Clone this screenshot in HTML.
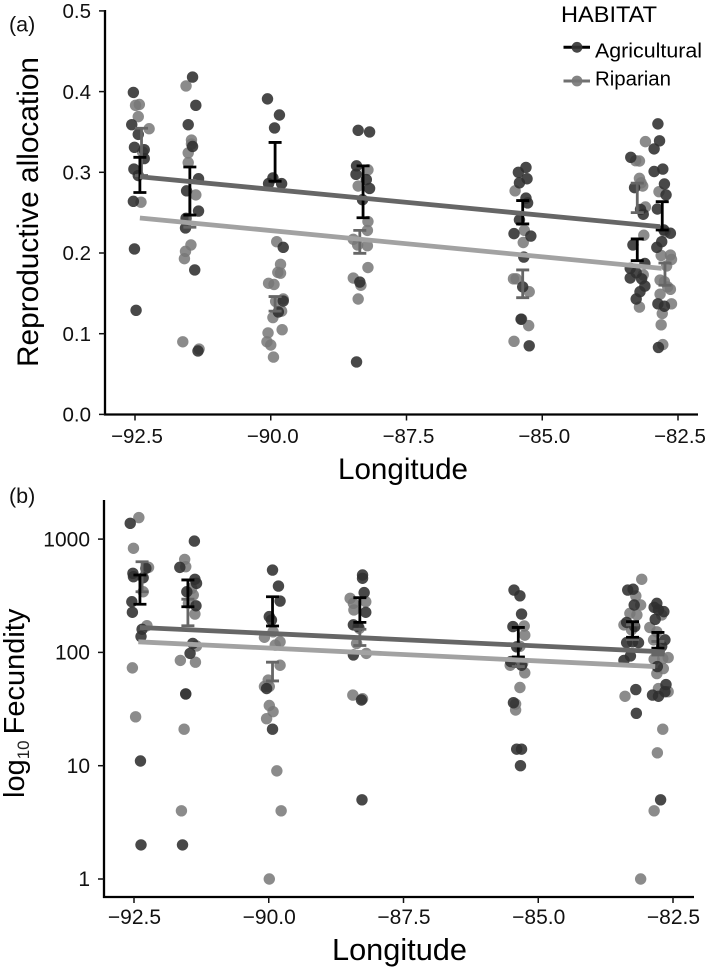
<!DOCTYPE html>
<html lang="en">
<head>
<meta charset="utf-8">
<title>Reproductive allocation and fecundity by longitude</title>
<style>
html,body{margin:0;padding:0;background:#fff;}
svg{display:block;font-family:"Liberation Sans",Arial,sans-serif;filter:blur(0.35px);}
</style>
</head>
<body>
<svg id="chart" xmlns="http://www.w3.org/2000/svg" width="709" height="967" viewBox="0 0 709 967">
  <rect width="709" height="967" fill="#fff"/>
  <g id="panel-a"></g>
  <g id="panel-b"></g>
  <text x="9" y="31.5" font-size="21.5" fill="#111">(a)</text>
  <text x="9" y="503" font-size="21.5" fill="#111">(b)</text>
  <text transform="translate(38,367) rotate(-90)" font-size="29.5" fill="#000" textLength="310" lengthAdjust="spacingAndGlyphs">Reproductive allocation</text>
  <text x="338" y="479" font-size="29.5" fill="#000" textLength="130" lengthAdjust="spacingAndGlyphs">Longitude</text>
  <text transform="translate(24,798) rotate(-90)" font-size="29" fill="#000">log<tspan font-size="17" dy="5" fill="#222">10</tspan><tspan dy="-5" dx="6">Fecundity</tspan></text>
  <text x="332" y="960" font-size="30.5" fill="#000" textLength="135" lengthAdjust="spacingAndGlyphs">Longitude</text>
  <g>
    <text x="561" y="22" font-size="22.5" fill="#000" textLength="96" lengthAdjust="spacingAndGlyphs">HABITAT</text>
    <g>
      <line x1="563.5" x2="590" y1="47.3" y2="47.3" stroke="#000" stroke-width="3"/>
      <circle cx="577" cy="47.3" r="5.4" fill="#333" fill-opacity="0.9"/>
      <text x="595" y="57.5" font-size="20" fill="#000" textLength="107" lengthAdjust="spacingAndGlyphs">Agricultural</text>
    </g>
    <g>
      <line x1="563.5" x2="590" y1="81" y2="81" stroke="#707070" stroke-width="3"/>
      <circle cx="577" cy="81" r="5.4" fill="#777" fill-opacity="0.9"/>
      <text x="595" y="85.5" font-size="20" fill="#000" textLength="76" lengthAdjust="spacingAndGlyphs">Riparian</text>
    </g>
  </g>
</svg>
<script>
// Shared axis tick labels
const xTicks = [-92.5, -90, -87.5, -85, -82.5];
const xTickLabels = ['\u221292.5', '\u221290.0', '\u221287.5', '\u221285.0', '\u221282.5'];

// Panel (a): y ticks
const aYTicks = [0, 0.1, 0.2, 0.3, 0.4, 0.5];
const aYTickLabels = ['0.0', '0.1', '0.2', '0.3', '0.4', '0.5'];

// Panel (a): agricultural points
const aAgrLon = [-92.53,-92.56,-92.44,-92.51,-92.33,-92.33,-92.52,-92.44,-92.53,-92.51,-92.48,
  -91.44,-91.38,-91.52,-91.44,-91.33,-91.55,-91.33,-91.56,-91.57,-91.40,-91.34,
  -90.06,-89.84,-89.93,-89.96,-90.04,-89.80,-89.77,-89.86,-89.77,
  -88.39,-88.18,-88.42,-88.43,-88.24,-88.18,-88.31,-88.42,-88.36,
  -85.30,-85.44,-85.28,-85.42,-85.30,-85.27,-85.42,-85.52,-85.21,-85.34,-85.36,-85.24,-85.39,
  -83.37,-83.30,-83.19,-83.14,-83.33,-83.11,-83.38,-83.27,-83.38,-83.17,-83.11,-83.20,-83.27,
  -82.87,-82.84,-82.94,-82.78,-82.94,-82.75,-82.72,-82.88,-82.76,-82.64,-82.80,-82.89,-82.87,-82.75,-82.86];
const aAgrVal = [0.399,0.359,0.347,0.331,0.328,0.317,0.304,0.296,0.264,0.205,0.129,
  0.418,0.383,0.359,0.332,0.292,0.277,0.252,0.243,0.231,0.179,0.0786,
  0.391,0.371,0.355,0.293,0.286,0.286,0.207,0.127,0.1405,
  0.352,0.350,0.308,0.2975,0.291,0.280,0.266,0.065,0.164,
  0.306,0.300,0.292,0.287,0.268,0.262,0.241,0.224,0.221,0.195,0.158,0.085,0.118,
  0.3186,0.281,0.254,0.248,0.210,0.187,0.181,0.1755,0.169,0.168,0.159,0.152,0.143,
  0.360,0.339,0.329,0.304,0.301,0.2855,0.272,0.2545,0.2285,0.2245,0.214,0.207,0.137,0.134,0.083];

// Panel (a): riparian points
const aRipLon = [-92.49,-92.42,-92.44,-92.24,-92.39,-92.36,
  -91.56,-91.46,-91.46,-91.52,-91.52,-91.38,-91.47,-91.57,-91.59,-91.62,-91.32,
  -89.89,-89.82,-89.87,-89.82,-90.04,-89.94,-89.77,-89.91,-89.80,-89.96,-89.79,-90.05,-90.07,-90.00,-89.95,
  -88.21,-88.39,-88.21,-88.22,-88.48,-88.21,-88.48,-88.34,-88.39,-88.40,-88.22,
  -85.50,-85.33,-85.35,-85.53,-85.48,-85.24,-85.38,-85.25,-85.52,
  -83.21,-83.28,-83.10,-83.21,-83.18,-83.15,-83.10,-83.13,-83.14,-83.21,
  -82.85,-82.74,-82.81,-82.64,-82.62,-82.71,-82.83,-82.75,-82.69,-82.64,-82.83,-82.62,-82.79,-82.81,-82.78];
const aRipVal = [0.383,0.384,0.369,0.354,0.263,0.325,
  0.407,0.340,0.335,0.324,0.312,0.272,0.210,0.202,0.193,0.090,0.081,
  0.214,0.186,0.176,0.175,0.1625,0.161,0.143,0.140,0.128,0.120,0.105,0.101,0.090,0.086,0.071,
  0.303,0.283,0.239,0.228,0.217,0.182,0.169,0.160,0.143,0.210,0.209,
  0.277,0.228,0.213,0.168,0.168,0.152,0.118,0.110,0.0906,
  0.314,0.3144,0.338,0.2925,0.287,0.283,0.257,0.222,0.173,0.133,
  0.276,0.226,0.197,0.1975,0.192,0.184,0.1665,0.1645,0.158,0.155,0.149,0.137,0.125,0.111,0.0865];

// Panel (a): regression lines (lon, fitted value at both ends)
const aAgrLineLon = [-92.41, -82.83];
const aAgrLineVal = [0.2945, 0.2326];
const aRipLineLon = [-92.41, -82.80];
const aRipLineVal = [0.2434, 0.181];

// Panel (a): error bars
const aAgrErrLon = [-92.41,-91.49,-89.92,-88.30,-85.36,-83.25,-82.79];
const aAgrErrHi = [0.3186,0.3066,0.337,0.308,0.265,0.2174,0.2636];
const aAgrErrLo = [0.275,0.247,0.289,0.2437,0.236,0.1905,0.2285];
const aRipErrLon = [-92.38,-91.49,-89.92,-88.36,-85.36,-83.25,-82.74];
const aRipErrHi = [0.3546,0.29,0.146,0.228,0.179,0.2866,0.1876];
const aRipErrLo = [0.296,0.232,0.128,0.1996,0.1446,0.25,0.160];

// Panel (b): y ticks
const bYTicks = [1, 10, 100, 1000];
const bYTickLabels = ['1', '10', '100', '1000'];

// Panel (b): agricultural points
const bAgrLon = [-92.57,-92.52,-92.28,-92.51,-92.33,-92.54,-92.53,-92.35,-92.37,-92.38,-92.37,
  -91.38,-91.65,-91.37,-91.34,-91.52,-91.35,-91.41,-91.46,-91.54,-91.60,
  -89.93,-89.82,-89.79,-89.99,-89.95,-89.93,-90.04,
  -88.26,-88.26,-88.23,-88.20,-88.43,-88.34,-88.43,-88.27,-88.28,
  -85.45,-85.34,-85.31,-85.47,-85.40,-85.51,-85.31,-85.46,-85.40,-85.31,-85.33,
  -83.34,-83.24,-83.22,-83.36,-83.21,-83.36,-83.25,-83.14,-83.29,-83.41,-83.19,-83.18,
  -82.80,-82.85,-82.77,-82.67,-82.83,-82.65,-82.71,-82.79,-82.63,-82.88,-82.77,-82.73,-82.65];
const bAgrVal = [1378,499,552,466,456,280,226,160,138,11,2,
  960,563,442,407,343,258,120,98,43,2,
  533,385,284,207,193,21,48,
  482,451,337,226,95,169,175,5,38,
  355,316,218,169,112,83,77,36,14,14,10,
  355,361,262,184,169,122,124,122,93,85,47,29,
  271,250,237,229,196,129,113,75,52,42,41,5,45];

// Panel (b): riparian points
const bRipLon = [-92.41,-92.51,-92.23,-92.33,-92.26,-92.53,-92.47,
  -91.56,-91.54,-91.43,-91.40,-91.49,-91.37,-91.34,-91.64,-91.36,-91.57,-91.62,-91.54,
  -89.92,-90.08,-89.79,-89.88,-89.79,-90.01,-90.08,-89.99,-89.99,-89.92,-90.04,-89.85,-89.77,-89.99,
  -88.49,-88.43,-88.20,-88.42,-88.32,-88.37,-88.19,-88.44,-88.26,
  -85.26,-85.25,-85.34,-85.52,-85.29,-85.25,-85.34,-85.42,-85.42,
  -83.08,-83.19,-83.10,-83.30,-83.17,-83.41,-83.27,-83.39,-83.10,
  -82.71,-82.93,-82.80,-82.86,-82.59,-82.85,-82.69,-82.68,-82.80,-82.77,-82.59,-82.69,-82.79,-82.85];
const bRipVal = [1550,830,563,343,172,73,27,
  662,571,367,321,271,218,114,85,82,21,4,43,
  152,136,124,116,77,57,50,50,34,30,26,9,4,1,
  300,271,280,237,163,120,98,42,39,
  171,142,113,77,80,66,49,35,31,
  442,315,262,221,214,175,158,41,1,
  214,166,152,129,90,87,88,72,65,48,45,21,13,4];

// Panel (b): regression lines
const bAgrLineLon = [-92.39, -82.65];
const bAgrLineVal = [166, 101];
const bRipLineLon = [-92.42, -82.83];
const bRipLineVal = [124, 75];

// Panel (b): error bars
const bAgrErrLon = [-92.39,-91.50,-89.93,-88.31,-85.37,-83.25,-82.78];
const bAgrErrHi = [482,436,310,304,166,187,150];
const bAgrErrLo = [266,253,171,184,91,136,109];
const bRipErrLon = [-92.35,-91.50,-89.93,-88.31,-85.37,-83.25,-82.78];
const bRipErrHi = [631,295,82,160,91,175,125];
const bRipErrLo = [343,172,56,115,75,130,95];

const SVGNS = 'http://www.w3.org/2000/svg';
const AGR_DOT = '#2f2f2f', RIP_DOT = '#777777';
const AGR_LINE = '#666666', RIP_LINE = '#a2a2a2';
const AGR_ERR = '#000000', RIP_ERR = '#666666';

function make(parent, tag, props) {
  const el = document.createElementNS(SVGNS, tag);
  for (const k in props) el.setAttribute(k, props[k]);
  parent.appendChild(el);
  return el;
}

function drawPanel(root, cfg) {
  const x = cfg.x, y = cfg.y;

  function points(lons, vals, fill, opacity, name) {
    const g = make(root, 'g', {});
    
    
    lons.forEach(function (lon, i) {
      const c = make(g, 'circle', { cx: x(lon), cy: y(vals[i]), r: 5.7, fill: fill, 'fill-opacity': opacity });
      
      
    });
  }

  function errors(lons, hi, lo, color, name) {
    const g = make(root, 'g', { stroke: color, 'stroke-width': 2.8, fill: 'none' });
    
    
    lons.forEach(function (lon, i) {
      const cx = x(lon), t = y(hi[i]), b = y(lo[i]);
      const p = make(g, 'path', { d: 'M' + (cx - 6.5) + ' ' + t + 'H' + (cx + 6.5) + 'M' + cx + ' ' + t + 'V' + b + 'M' + (cx - 6.5) + ' ' + b + 'H' + (cx + 6.5) });
      
      
    });
  }

  function fitLine(lons, vals, color, name) {
    const l = make(root, 'line', { x1: x(lons[0]), y1: y(vals[0]), x2: x(lons[1]), y2: y(vals[1]), stroke: color, 'stroke-width': 4.8 });
    
    
  }

  points(cfg.ripLon, cfg.ripVal, RIP_DOT, 0.85, 'riparian');
  points(cfg.agrLon, cfg.agrVal, AGR_DOT, 0.88, 'agricultural');
  errors(cfg.ripErrLon, cfg.ripErrHi, cfg.ripErrLo, RIP_ERR, 'riparian');
  errors(cfg.agrErrLon, cfg.agrErrHi, cfg.agrErrLo, AGR_ERR, 'agricultural');
  fitLine(cfg.ripLineLon, cfg.ripLineVal, RIP_LINE, 'riparian');
  fitLine(cfg.agrLineLon, cfg.agrLineVal, AGR_LINE, 'agricultural');

  const yAxis = make(root, 'line', { x1: cfg.left, x2: cfg.left, y1: cfg.top, y2: cfg.bottom + 1, stroke: '#000', 'stroke-width': 2.3 });
  
  
  const xAxis = make(root, 'line', { x1: cfg.left - 1, x2: cfg.right, y1: cfg.bottom, y2: cfg.bottom, stroke: '#000', 'stroke-width': 2.3 });
  
  

  cfg.yTicks.forEach(function (v, i) {
    const ty = y(v);
    const tick = make(root, 'line', { x1: cfg.left - 6, x2: cfg.left, y1: ty, y2: ty, stroke: '#111', 'stroke-width': 1.5 });
    
    
    const label = make(root, 'text', { x: cfg.yLabelX, y: ty + 7.2, 'text-anchor': 'end', 'font-size': cfg.tickFont, fill: '#111' });
    label.textContent = cfg.yTickLabels[i];
    
    
  });

  xTicks.forEach(function (v, i) {
    const tx = x(v);
    const tick = make(root, 'line', { x1: tx, x2: tx, y1: cfg.bottom, y2: cfg.bottom + 6, stroke: '#111', 'stroke-width': 1.5 });
    
    
    const label = make(root, 'text', { x: tx + cfg.xLabelShift, y: cfg.xLabelY, 'text-anchor': 'middle', 'font-size': cfg.tickFont, fill: '#111' });
    label.textContent = xTickLabels[i];
    
    
  });
}

drawPanel(document.getElementById('panel-a'), {
  x: function (v) { return 135 + (v + 92.5) * 54.3; },
  y: function (v) { return 414.4 - v * 807; },
  left: 105, right: 698, top: 10, bottom: 414.5,
  yTicks: aYTicks, yTickLabels: aYTickLabels, yLabelX: 91, xLabelShift: 2, xLabelY: 443, tickFont: 20.5,
  agrLon: aAgrLon, agrVal: aAgrVal, ripLon: aRipLon, ripVal: aRipVal,
  agrLineLon: aAgrLineLon, agrLineVal: aAgrLineVal, ripLineLon: aRipLineLon, ripLineVal: aRipLineVal,
  agrErrLon: aAgrErrLon, agrErrHi: aAgrErrHi, agrErrLo: aAgrErrLo,
  ripErrLon: aRipErrLon, ripErrHi: aRipErrHi, ripErrLo: aRipErrLo
});

drawPanel(document.getElementById('panel-b'), {
  x: function (v) { return 134 + (v + 92.5) * 53.9; },
  y: function (v) { return 879 - Math.log10(v) * 113.3; },
  left: 104, right: 694, top: 500, bottom: 897,
  yTicks: bYTicks, yTickLabels: bYTickLabels, yLabelX: 90, xLabelShift: 0.5, xLabelY: 924, tickFont: 21,
  agrLon: bAgrLon, agrVal: bAgrVal, ripLon: bRipLon, ripVal: bRipVal,
  agrLineLon: bAgrLineLon, agrLineVal: bAgrLineVal, ripLineLon: bRipLineLon, ripLineVal: bRipLineVal,
  agrErrLon: bAgrErrLon, agrErrHi: bAgrErrHi, agrErrLo: bAgrErrLo,
  ripErrLon: bRipErrLon, ripErrHi: bRipErrHi, ripErrLo: bRipErrLo
});
</script>
</body>
</html>
